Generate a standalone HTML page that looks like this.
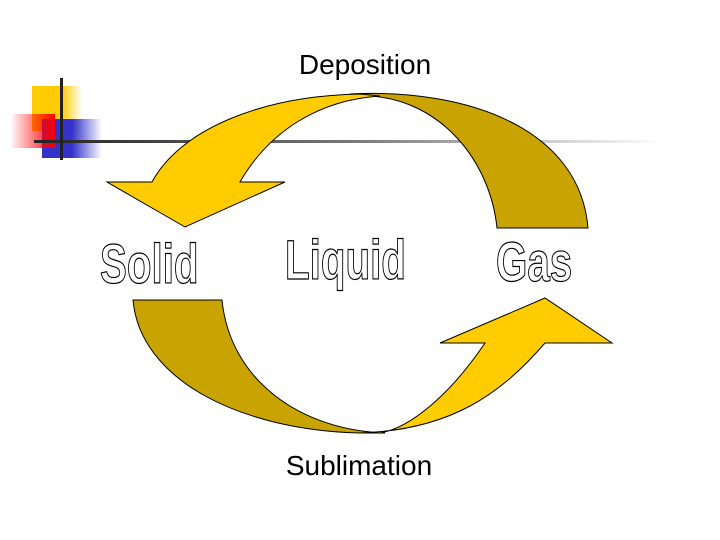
<!DOCTYPE html>
<html><head><meta charset="utf-8"><style>
html,body{margin:0;padding:0;background:#fff}
svg{display:block}
</style></head><body>
<svg width="720" height="540" viewBox="0 0 720 540" xmlns="http://www.w3.org/2000/svg">
<defs>
<linearGradient id="gy" x1="0" x2="1"><stop offset="0.6" stop-color="#FFCC00"/><stop offset="1" stop-color="#FFCC00" stop-opacity="0"/></linearGradient>
<linearGradient id="gr" x1="1" x2="0"><stop offset="0" stop-color="#FF0000"/><stop offset="1" stop-color="#FF0000" stop-opacity="0"/></linearGradient>
<linearGradient id="gb" x1="0" x2="1"><stop offset="0.5" stop-color="#3333CC"/><stop offset="1" stop-color="#3333CC" stop-opacity="0"/></linearGradient>
<linearGradient id="gl" x1="0" x2="1"><stop offset="0" stop-color="#222"/><stop offset="0.5" stop-color="#777"/><stop offset="1" stop-color="#fff"/></linearGradient>
</defs>
<rect x="32" y="86" width="50" height="45" fill="url(#gy)"/>
<rect x="42" y="119" width="60" height="39" fill="url(#gb)"/>
<rect x="10" y="114" width="45" height="34" fill="url(#gr)"/>
<rect x="34" y="140" width="630" height="3" fill="url(#gl)"/>
<rect x="60" y="78" width="3" height="82" fill="#222"/>

<!-- top arrow -->
<path d="M350,94 C470,88 580,130 588,228 L497,228 C490,160 440,100 370,96 Z" fill="#C9A400" stroke="#000" stroke-width="1"/>
<path d="M360,94 C260,96 180,130 152,182 L107,182 L185,227 L285,182 L240,182 C270,130 320,100 380,96 Z" fill="#FFCC00" stroke="#000" stroke-width="1"/>
<!-- bottom arrow -->
<path d="M133,300 L222,300 C230,380 300,430 385,433 L360,433 C240,430 140,380 133,300 Z" fill="#C9A400" stroke="#000" stroke-width="1"/>
<path d="M360,433 C450,430 500,395 545,343 L612,343 L545,298 L440,343 L485,343 C450,395 410,428 380,433 Z" fill="#FFCC00" stroke="#000" stroke-width="1"/>

<text x="365" y="74" font-family="Liberation Sans, sans-serif" font-size="28" text-anchor="middle">Deposition</text>
<text x="359" y="475" font-family="Liberation Sans, sans-serif" font-size="28" text-anchor="middle">Sublimation</text>

<g font-family="Liberation Sans, sans-serif" font-weight="bold" font-size="56" fill="#fff" stroke="#000" stroke-width="1.2">
<text transform="translate(100,283) scale(0.72,1)">Solid</text>
<text transform="translate(285,279) scale(0.72,1)">Liquid</text>
<text transform="translate(496,281) scale(0.72,1)">Gas</text>
</g>
</svg>
</body></html>
